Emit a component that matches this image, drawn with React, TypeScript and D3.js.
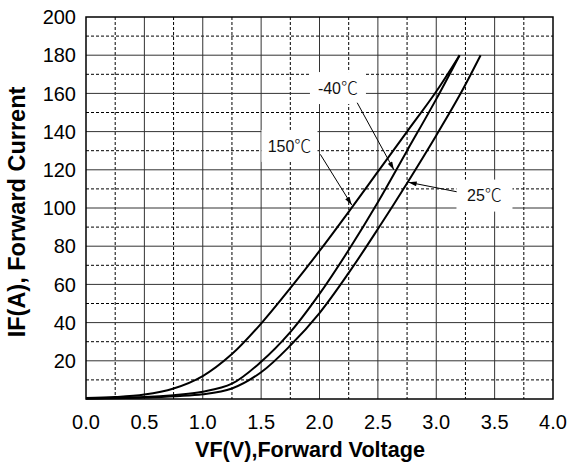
import React from "react";
import * as d3 from "d3";

const V150 = [0, 0.25, 0.5, 0.75, 1.0, 1.25, 1.5, 1.75, 2.0, 2.25, 2.5, 2.75, 3.0, 3.2];
const I150 = [0.5, 1.0, 2.3, 5.5, 12, 23.5, 39.5, 58, 77.5, 98, 119, 140, 161, 180];

const Vm40 = [0, 0.5, 0.75, 1.0, 1.25, 1.5, 1.75, 2.0, 2.25, 2.5, 2.75, 3.0, 3.2];
const Im40 = [0.3, 1.0, 2.0, 3.8, 8, 19.5, 35, 55, 78, 103, 130, 157, 180];

const V25 = [0, 0.5, 1.0, 1.25, 1.5, 1.75, 2.0, 2.25, 2.5, 2.75, 3.0, 3.2, 3.38];
const I25 = [0.3, 0.8, 2.5, 5.5, 14, 28, 45, 66, 89, 113, 138, 159, 180];

const xTicks = [0, 0.5, 1.0, 1.5, 2.0, 2.5, 3.0, 3.5, 4.0];
const yTicks = [20, 40, 60, 80, 100, 120, 140, 160, 180, 200];

const labelNums = ["-40", "150", "25"];
const labelV = [2.158, 1.743, 3.413];
const labelI = [162.8, 132.5, 106.5];
const arrowFromV = [2.323, 2.007, 3.175];
const arrowFromI = [155.1, 128.1, 108.5];
const arrowToV = [2.638, 2.276, 2.761];
const arrowToI = [119.9, 101.6, 113.5];

export default function App() {
  const W = 573, H = 467;
  const left = 86, right = 553, top = 17, bottom = 399;
  const x = d3.scaleLinear().domain([0, 4]).range([left, right]);
  const y = d3.scaleLinear().domain([0, 200]).range([bottom, top]);

  const line = d3
    .line<[number, number]>()
    .x((d) => x(d[0]))
    .y((d) => y(d[1]))
    .curve(d3.curveCatmullRom.alpha(0.5));

  const series = [
    V150.map((v, i) => [v, I150[i]] as [number, number]),
    Vm40.map((v, i) => [v, Im40[i]] as [number, number]),
    V25.map((v, i) => [v, I25[i]] as [number, number]),
  ];

  const solidX = d3.range(0.5, 4, 0.5);
  const dashX = d3.range(0.25, 4, 0.5);
  const solidY = d3.range(20, 200, 20);
  const dashY = d3.range(10, 200, 20);

  const font = "'Liberation Sans', Arial, sans-serif";

  return (
    <svg width={W} height={H} style={{ position: "absolute", left: 0, top: 0, background: "#fff" }}>
      <defs>
        <marker id="ah" viewBox="0 0 10 6" refX="10" refY="3" markerWidth="9" markerHeight="5" orient="auto" markerUnits="userSpaceOnUse">
          <path d="M0,0 L10,3 L0,6 Z" fill="#000" />
        </marker>
      </defs>
      <rect x={0} y={0} width={W} height={H} fill="#fff" />
      {dashX.map((v) => (
        <line key={"dx" + v} x1={x(v)} x2={x(v)} y1={top} y2={bottom} stroke="#000" strokeWidth={1} strokeDasharray="3,2" />
      ))}
      {dashY.map((v) => (
        <line key={"dy" + v} x1={left} x2={right} y1={y(v)} y2={y(v)} stroke="#000" strokeWidth={1} strokeDasharray="3,2" />
      ))}
      {solidX.map((v) => (
        <line key={"sx" + v} x1={x(v)} x2={x(v)} y1={top} y2={bottom} stroke="#333" strokeWidth={1} />
      ))}
      {solidY.map((v) => (
        <line key={"sy" + v} x1={left} x2={right} y1={y(v)} y2={y(v)} stroke="#333" strokeWidth={1} />
      ))}
      <rect x={left} y={top} width={right - left} height={bottom - top} fill="none" stroke="#000" strokeWidth={1.5} />

      {series.map((s, i) => (
        <path key={"s" + i} d={line(s) || ""} fill="none" stroke="#000" strokeWidth={2} />
      ))}

      {labelNums.map((t, i) => (
        <g key={"lab" + i}>
          <rect x={x(labelV[i]) - 28} y={y(labelI[i]) - 16} width={56} height={32} fill="#fff" />
          <line x1={x(arrowFromV[i])} y1={y(arrowFromI[i])} x2={x(arrowToV[i])} y2={y(arrowToI[i])} stroke="#000" strokeWidth={1} markerEnd="url(#ah)" />
          <text x={x(labelV[i])} y={y(labelI[i])} dy="0.36em" textAnchor="middle" fontSize={16} fontFamily={font} fill="#111">
            {t}
            <tspan fontFamily="'Noto Sans CJK SC', sans-serif" fontWeight={300} fontSize={17}>℃</tspan>
          </text>
        </g>
      ))}

      {xTicks.map((v) => (
        <text key={"xt" + v} x={x(v)} y={429} textAnchor="middle" fontSize={20} fontFamily={font} fill="#000">
          {v.toFixed(1)}
        </text>
      ))}
      {yTicks.map((v) => (
        <text key={"yt" + v} x={76} y={y(v)} dy="0.36em" textAnchor="end" fontSize={20} fontFamily={font} fill="#000">
          {v}
        </text>
      ))}
      <text x={310} y={457} textAnchor="middle" fontSize={21.6} fontWeight="bold" fontFamily={font} fill="#000">
        VF(V),Forward Voltage
      </text>
      <text transform={`translate(25,${(top + bottom) / 2 + 4}) rotate(-90)`} textAnchor="middle" fontSize={23.5} fontWeight="bold" fontFamily={font} fill="#000">
        IF(A), Forward Current
      </text>
    </svg>
  );
}
